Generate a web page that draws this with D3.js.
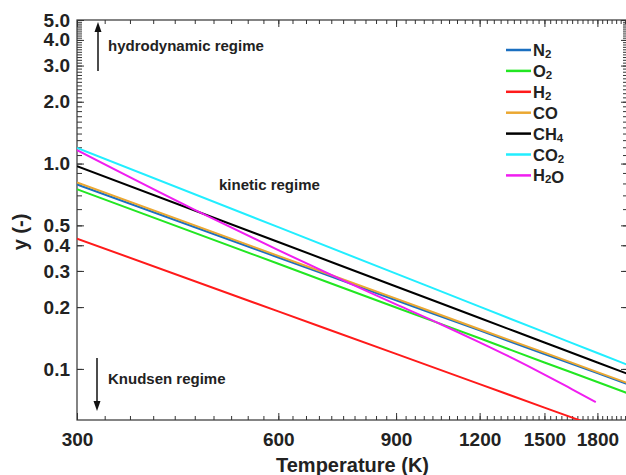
<!DOCTYPE html>
<html>
<head>
<meta charset="utf-8">
<script src="https://cdn.jsdelivr.net/npm/d3@7"></script>
<style>
  body { margin: 0; background: #fff; }
  text { font-family: "Liberation Sans", Arial, sans-serif; font-weight: bold; fill: #222; }
</style>
</head>
<body>
<div id="chart"></div>
<script>
// values
var temps = [300, 600, 900, 1200, 1500, 1800, 2000];
var yN2  = [0.791, 0.349, 0.216, 0.154, 0.118, 0.0954, 0.0842];
var yO2  = [0.750, 0.325, 0.199, 0.141, 0.1075, 0.0864, 0.0760];
var yCO  = [0.809, 0.355, 0.220, 0.156, 0.120, 0.0965, 0.0852];
var yCH4 = [0.971, 0.415, 0.252, 0.177, 0.1345, 0.1075, 0.0945];
var yCO2 = [1.192, 0.490, 0.291, 0.201, 0.151, 0.1196, 0.1045];

var tempsH2 = [300, 600, 900, 1200, 1500, 1700];
var yH2     = [0.431, 0.1906, 0.1183, 0.0843, 0.0648, 0.0560];

var tempsH2O = [300, 450, 600, 750, 900, 1050, 1200, 1350, 1500, 1650, 1790];
var yH2O     = [1.162, 0.595, 0.3786, 0.2698, 0.2063, 0.1650, 0.1347, 0.1119, 0.0939, 0.0796, 0.0690];

var names  = ["N2", "O2", "H2", "CO", "CH4", "CO2", "H2O"];
var colors = ["#1a6fc0", "#22e622", "#ff1a1a", "#eba832", "#000000", "#22eeff", "#f01ef0"];

var xMajor = [300, 600, 900, 1200, 1500, 1800];
var yMajor = [0.1, 0.2, 0.3, 0.4, 0.5, 1, 2, 3, 4, 5];

var series = [
  {name: "N2",  t: temps,    v: yN2},
  {name: "O2",  t: temps,    v: yO2},
  {name: "H2",  t: tempsH2,  v: yH2},
  {name: "CO",  t: temps,    v: yCO},
  {name: "CH4", t: temps,    v: yCH4},
  {name: "CO2", t: temps,    v: yCO2},
  {name: "H2O", t: tempsH2O, v: yH2O}
];

var W = 626, H = 475;
var pLeft = 77, pRight = 628, pTop = 20, pBottom = 420;

var svg = d3.select("#chart").append("svg")
  .attr("width", W).attr("height", H);

var x = d3.scaleLog().domain([300, 2000]).range([pLeft, pRight]);
var y = d3.scaleLog().domain([0.0564, 5]).range([pBottom, pTop]);

// minor ticks
var xMinor = d3.range(300, 2000, 30);
var yMinor = d3.range(1, 10).map(function(d) { return d / 10; })
  .concat(d3.range(10, 51).map(function(d) { return d / 10; }));

function strip(g) {
  g.select(".domain").remove();
  g.selectAll("line").attr("stroke", "#333").attr("stroke-width", 1);
}

// bottom
svg.append("g").attr("transform", "translate(0," + pBottom + ")")
  .call(d3.axisBottom(x).tickValues(xMinor).tickSize(-4).tickFormat(""))
  .call(strip);
svg.append("g").attr("transform", "translate(0," + pBottom + ")")
  .call(d3.axisBottom(x).tickValues(xMajor).tickSize(-7).tickPadding(13)
    .tickFormat(d3.format("d")))
  .call(strip)
  .selectAll("text").style("font-size", "19px").attr("fill", "#222");

// top
svg.append("g").attr("transform", "translate(0," + pTop + ")")
  .call(d3.axisTop(x).tickValues(xMinor).tickSize(-4).tickFormat(""))
  .call(strip);
svg.append("g").attr("transform", "translate(0," + pTop + ")")
  .call(d3.axisTop(x).tickValues(xMajor).tickSize(-7).tickFormat(""))
  .call(strip);

// left
svg.append("g").attr("transform", "translate(" + pLeft + ",0)")
  .call(d3.axisLeft(y).tickValues(yMinor).tickSize(-5).tickFormat(""))
  .call(strip);
svg.append("g").attr("transform", "translate(" + pLeft + ",0)")
  .call(d3.axisLeft(y).tickValues(yMajor).tickSize(-7).tickPadding(7)
    .tickFormat(d3.format(".1f")))
  .call(strip)
  .selectAll("text").style("font-size", "19px").attr("fill", "#222");

// right
svg.append("g").attr("transform", "translate(" + pRight + ",0)")
  .call(d3.axisRight(y).tickValues(yMinor).tickSize(-5).tickFormat(""))
  .call(strip);
svg.append("g").attr("transform", "translate(" + pRight + ",0)")
  .call(d3.axisRight(y).tickValues(yMajor).tickSize(-7).tickFormat(""))
  .call(strip);

// frame
svg.append("rect")
  .attr("x", pLeft).attr("y", pTop)
  .attr("width", pRight - pLeft).attr("height", pBottom - pTop)
  .attr("fill", "none").attr("stroke", "#333").attr("stroke-width", 1.2);

svg.append("clipPath").attr("id", "clip")
  .append("rect").attr("x", pLeft).attr("y", pTop)
  .attr("width", pRight - pLeft).attr("height", pBottom - pTop);

var line = d3.line()
  .x(function(d) { return x(d[0]); })
  .y(function(d) { return y(d[1]); })
  .curve(d3.curveMonotoneX);

svg.append("g").attr("clip-path", "url(#clip)")
  .selectAll("path.series")
  .data(series)
  .enter().append("path")
  .attr("class", "series")
  .attr("d", function(s) { return line(s.t.map(function(t, i) { return [t, s.v[i]]; })); })
  .attr("fill", "none")
  .attr("stroke", function(s, i) { return colors[i]; })
  .attr("stroke-width", 2);

// axis titles
svg.append("text")
  .attr("x", (pLeft + pRight) / 2).attr("y", 472)
  .attr("text-anchor", "middle")
  .style("font-size", "20px")
  .text("Temperature (K)");

svg.append("text")
  .attr("transform", "translate(27,232) rotate(-90)")
  .attr("text-anchor", "middle")
  .style("font-size", "20px")
  .text("y (-)");

// regime annotations
svg.append("text").attr("x", 108).attr("y", 51).style("font-size", "15px").text("hydrodynamic regime");
svg.append("text").attr("x", 219).attr("y", 190).style("font-size", "15px").text("kinetic regime");
svg.append("text").attr("x", 108).attr("y", 384).style("font-size", "15px").text("Knudsen regime");

function arrow(x0, y0, y1) {
  var dir = y1 < y0 ? 1 : -1;
  svg.append("line")
    .attr("x1", x0).attr("y1", y0).attr("x2", x0).attr("y2", y1 + dir * 8)
    .attr("stroke", "#111").attr("stroke-width", 1.5);
  svg.append("path")
    .attr("d", "M" + (x0 - 3.5) + "," + (y1 + dir * 10) + "L" + x0 + "," + y1 + "L" + (x0 + 3.5) + "," + (y1 + dir * 10) + "Z")
    .attr("fill", "#111");
}
arrow(98, 71, 22);
arrow(97, 358, 411);

// legend
var leg = svg.append("g").attr("class", "legend");
var rows = leg.selectAll("g")
  .data(names)
  .enter().append("g")
  .attr("transform", function(d, i) { return "translate(0," + (50 + i * 20.9) + ")"; });

rows.append("line")
  .attr("x1", 506).attr("x2", 531)
  .attr("stroke", function(d, i) { return colors[i]; })
  .attr("stroke-width", 2.5);

rows.append("text")
  .attr("x", 533).attr("y", 6)
  .style("font-size", "16.5px")
  .each(function(d) {
    var t = d3.select(this);
    d.match(/[A-Z]+|\d+/g).forEach(function(part) {
      if (/\d/.test(part)) {
        t.append("tspan").attr("dy", 2).style("font-size", "11.5px").text(part);
        t.append("tspan").attr("dy", -2).text("");
      } else {
        t.append("tspan").text(part);
      }
    });
  });
</script>
</body>
</html>
